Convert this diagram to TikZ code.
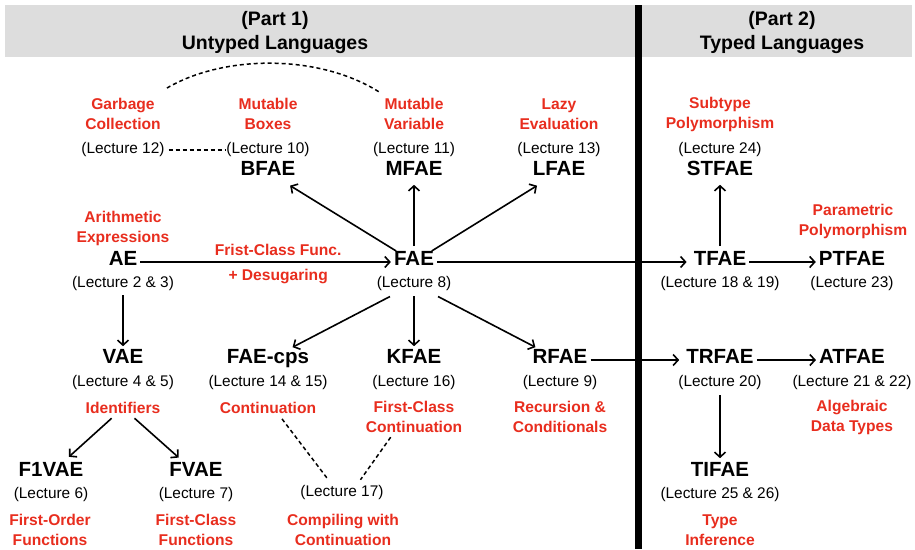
\documentclass[tikz,border=0pt]{standalone}
\usepackage{fontspec}
\setmainfont{Liberation Sans}
\usetikzlibrary{arrows.meta}
\definecolor{topicred}{RGB}{232,45,30}
\definecolor{bandgray}{RGB}{221,221,221}
\begin{document}
\begin{tikzpicture}[x=1pt,y=-1pt,
  lang/.style={font=\fontsize{20.5}{22}\selectfont\bfseries, inner sep=3pt, text height=0.72em, text depth=0pt},
  lec/.style={font=\fontsize{15.4}{17}\selectfont, inner sep=1pt},
  topic/.style={font=\fontsize{15.6}{20}\selectfont\bfseries, text=topicred, align=center, inner sep=1pt},
  head/.style={font=\fontsize{19.5}{24}\selectfont\bfseries, align=center},
  arr/.style={line width=1.6pt, -{Straight Barb[length=5pt, width=11pt, line width=1.6pt]}},
  dashline/.style={line width=1.5pt, dash pattern=on 4pt off 3pt},
]
\useasboundingbox (0,0) rectangle (915,549);
\fill[bandgray] (5,5) rectangle (912,57);

% headers
\node[head] (h1) at (275,32) {(Part 1)\\Untyped Languages};
\node[head] (h2) at (782,32) {(Part 2)\\Typed Languages};

% top row
\node[topic] (gctopic) at (123,114) {Garbage\\Collection};
\node[lec] (gclec) at (123,150) {(Lecture 12)};
\node[topic] (btopic) at (268,114) {Mutable\\Boxes};
\node[lec] (bfaelec) at (268,150) {(Lecture 10)};
\node[lang] (bfae) at (268,172) {BFAE};
\node[topic] (mvtopic) at (414,114) {Mutable\\Variable};
\node[lec] (mfaelec) at (414,150) {(Lecture 11)};
\node[lang] (mfae) at (414,172) {MFAE};
\node[topic] (ltopic) at (559,114) {Lazy\\Evaluation};
\node[lec] (lfaelec) at (559,150) {(Lecture 13)};
\node[lang] (lfae) at (559,172) {LFAE};
\node[topic] (sttopic) at (720,114) {Subtype\\Polymorphism};
\node[lec] (stfaelec) at (720,150) {(Lecture 24)};
\node[lang] (stfae) at (720,172) {STFAE};

% second row
\node[topic] (aetopic) at (123,228) {Arithmetic\\Expressions};
\node[lang] (ae) at (123,262) {AE};
\node[lec] (aelec) at (123,284) {(Lecture 2 \& 3)};
\node[lang] (fae) at (414,262) {FAE};
\node[lec] (faelec) at (414,284) {(Lecture 8)};
\node[lang] (tfae) at (720,262) {TFAE};
\node[lec] (tfaelec) at (720,284) {(Lecture 18 \& 19)};
\node[topic] (pttopic) at (853,221) {Parametric\\Polymorphism};
\node[lang] (ptfae) at (852,262) {PTFAE};
\node[lec] (ptfaelec) at (852,284) {(Lecture 23)};

% third row
\node[lang] (vae) at (123,360) {VAE};
\node[lec] (vaelec) at (123,383) {(Lecture 4 \& 5)};
\node[topic] (ident) at (123,408) {Identifiers};
\node[lang] (faecps) at (268,360) {FAE-cps};
\node[lec] (faecpslec) at (268,383) {(Lecture 14 \& 15)};
\node[topic] (conttopic) at (268,408) {Continuation};
\node[lang] (kfae) at (414,360) {KFAE};
\node[lec] (kfaelec) at (414,383) {(Lecture 16)};
\node[topic] (kcont) at (414,417) {First-Class\\Continuation};
\node[lang] (rfae) at (560,360) {RFAE};
\node[lec] (rfaelec) at (560,383) {(Lecture 9)};
\node[topic] (rtopic) at (560,417) {Recursion \&\\Conditionals};
\node[lang] (trfae) at (720,360) {TRFAE};
\node[lec] (trfaelec) at (720,383) {(Lecture 20)};
\node[lang] (atfae) at (852,360) {ATFAE};
\node[lec] (atfaelec) at (852,383) {(Lecture 21 \& 22)};
\node[topic] (attopic) at (852,417) {Algebraic\\Data Types};

% fourth row
\node[lang] (f1vae) at (51,473) {F1VAE};
\node[lec] (f1vaelec) at (51,495) {(Lecture 6)};
\node[topic] (f1topic) at (50,530) {First-Order\\Functions};
\node[lang] (fvae) at (196,473) {FVAE};
\node[lec] (fvaelec) at (196,495) {(Lecture 7)};
\node[topic] (fvtopic) at (196,530) {First-Class\\Functions};
\node[lec] (lec17) at (342,493) {(Lecture 17)};
\node[topic] (comptopic) at (343,530) {Compiling with\\Continuation};
\node[lang] (tifae) at (720,473) {TIFAE};
\node[lec] (tifaelec) at (720,495) {(Lecture 25 \& 26)};
\node[topic] (titopic) at (720,530) {Type\\Inference};

% arrows
\draw[arr] (ae) -- node[pos=0.55, topic, above=5pt] {Frist-Class Func.} node[pos=0.55, topic, below=5pt] {+ Desugaring} (fae);
\draw[arr, shorten >=4pt] (fae) -- (tfae);
\draw[arr] (tfae) -- (ptfae);
\draw[arr, shorten <=9pt, shorten >=6pt] (tfae) -- (stfae);
\draw[arr, shorten <=9pt, shorten >=6pt] (fae) -- (mfae);
\draw[arr, shorten <=8pt, shorten >=13pt] (fae) -- (bfae);
\draw[arr, shorten <=8pt, shorten >=13pt] (fae) -- (lfae);
\draw[arr, shorten <=4pt, shorten >=7pt] (faelec) -- (kfae);
\draw[arr, shorten <=9pt, shorten >=13pt] (faelec) -- (faecps);
\draw[arr, shorten <=9pt, shorten >=13pt] (faelec) -- (rfae);
\draw[arr, shorten <=3pt, shorten >=7pt] (aelec) -- (vae);
\draw[arr, shorten >=4pt] (rfae) -- (trfae);
\draw[arr] (trfae) -- (atfae);
\draw[arr, shorten <=4pt, shorten >=8pt] (trfaelec) -- (tifae);
\draw[arr, shorten <=5pt, shorten >=14pt] (ident) -- (f1vae);
\draw[arr, shorten <=5pt, shorten >=13pt] (ident) -- (fvae);

% dashed relations
\draw[dashline, shorten <=3pt] (gclec) -- (bfaelec);
\draw[dashline] ([shift={(5,-9)}]gctopic.north east) .. controls +(58,-34) and +(-60,-39) .. ([shift={(-2,-4)}]mvtopic.north west);
\draw[dashline, shorten <=5pt, shorten >=6pt] ([xshift=11pt]conttopic.south) -- ([xshift=-10pt]lec17.north);
\draw[dashline, shorten <=4pt, shorten >=6pt] ([xshift=-21pt]kcont.south) -- ([xshift=15pt]lec17.north);

% separator
\fill[black] (635,5) rectangle (642,549);
\end{tikzpicture}
\end{document}
